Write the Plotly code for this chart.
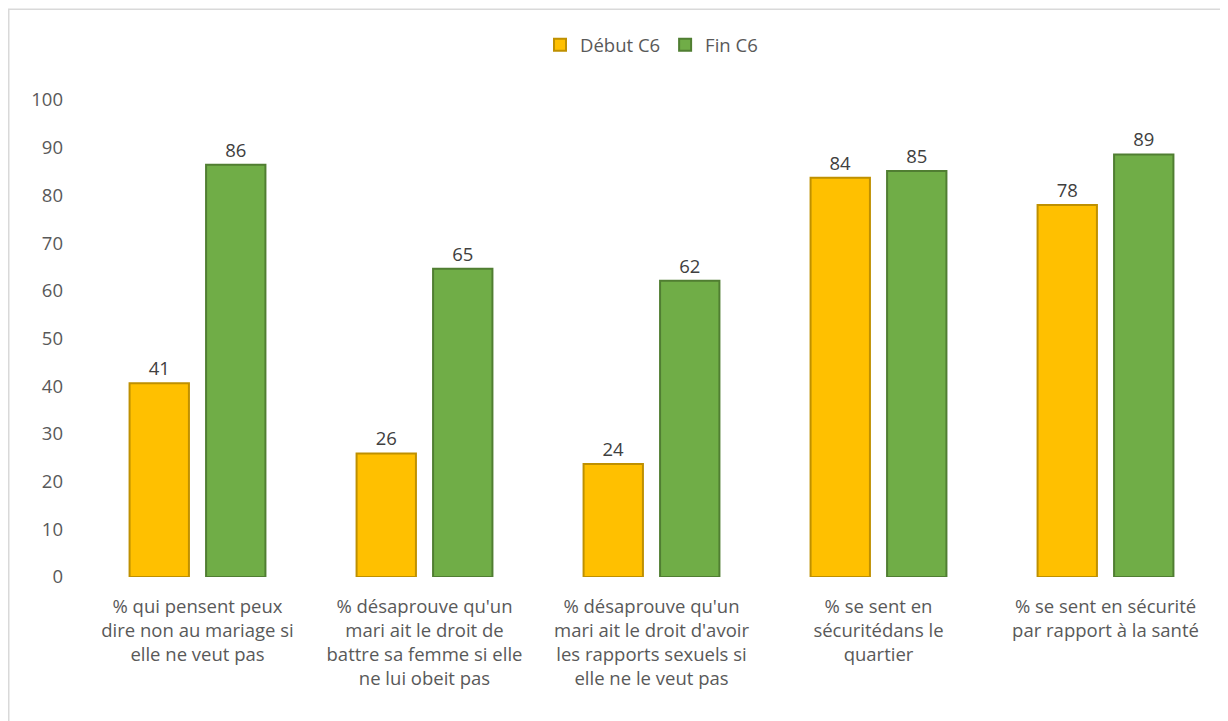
import plotly.graph_objects as go

categories = [
    "% qui pensent peux<br>dire non au mariage si<br>elle ne veut pas",
    "% désaprouve qu'un<br>mari ait le droit de<br>battre sa femme si elle<br>ne lui obeit pas",
    "% désaprouve qu'un<br>mari ait le droit d'avoir<br>les rapports sexuels si<br>elle ne le veut pas",
    "% se sent en<br>sécuritédans le<br>quartier",
    "% se sent en sécurité<br>par rapport à la santé",
]
debut_c6 = [40.6, 25.9, 23.7, 83.7, 78.0]
fin_c6 = [86.4, 64.6, 62.1, 85.1, 88.6]

font_family = "Open Sans"
grey = "#595959"
fs = 18.5

fig = go.Figure()
fig.add_trace(go.Bar(
    name="Début C6", x=categories, y=debut_c6,
    marker=dict(color="#FFC000", line=dict(color="#BF9000", width=2)),
    texttemplate="%{y:.0f}", textposition="outside",
    textfont=dict(color="#404040", size=fs, family=font_family),
    cliponaxis=False,
))
fig.add_trace(go.Bar(
    name="Fin C6", x=categories, y=fin_c6,
    marker=dict(color="#70AD47", line=dict(color="#507E32", width=2)),
    texttemplate="%{y:.0f}", textposition="outside",
    textfont=dict(color="#404040", size=fs, family=font_family),
    cliponaxis=False,
))

# page has an 8px body margin, so the figure is a little smaller
fig.update_layout(
    width=1220, height=713,
    margin=dict(l=76, r=9, t=92, b=144),
    paper_bgcolor="white", plot_bgcolor="white",
    font=dict(family=font_family, size=fs, color=grey),
    barmode="group", bargap=0.326, bargroupgap=0.224,
    showlegend=True,
    legend=dict(orientation="h", x=0.5, xanchor="center", y=1.115, yanchor="middle",
                font=dict(size=fs, color=grey), itemwidth=30),
    shapes=[dict(type="rect", xref="paper", yref="paper",
                 x0=-0.0663, x1=1.05, y0=-0.4, y1=1.19,
                 line=dict(color="#d9d9d9", width=1.5), fillcolor="rgba(0,0,0,0)",
                 layer="below")],
)
fig.update_xaxes(showline=False, showgrid=False, ticks="", ticklabelstandoff=16,
                 tickfont=dict(size=fs, color=grey))
fig.update_yaxes(range=[0, 100], dtick=10, showgrid=False, showline=False,
                 zeroline=False, ticks="", ticklabelstandoff=20,
                 tickfont=dict(size=fs, color=grey))

fig.write_html("out.html")
